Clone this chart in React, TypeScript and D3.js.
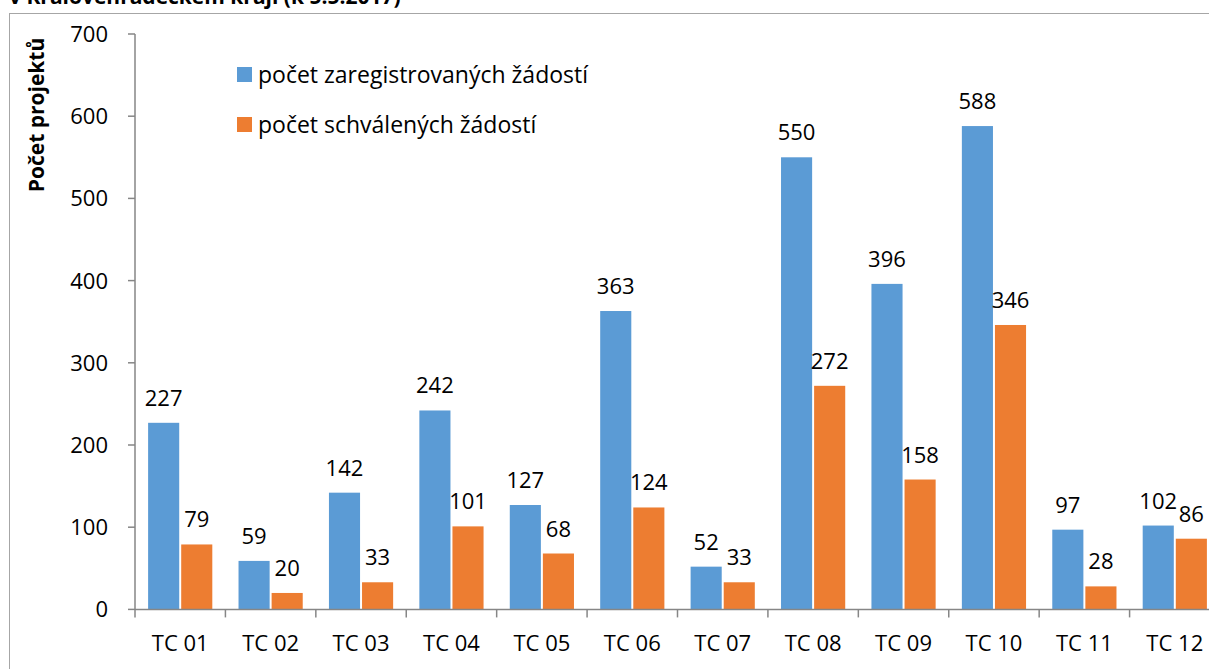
import React from "react";
import * as d3 from "d3";

const categories = ["TC 01","TC 02","TC 03","TC 04","TC 05","TC 06","TC 07","TC 08","TC 09","TC 10","TC 11","TC 12"];
const registered = [227,59,142,242,127,363,52,550,396,588,97,102];
const approved = [79,20,33,101,68,124,33,272,158,346,28,86];
const yTicks = [0,100,200,300,400,500,600,700];
const seriesNames = ["počet zaregistrovaných žádostí","počet schválených žádostí"];
const colors = ["#5B9BD5","#ED7D31"];
const title = "v Královéhradeckém kraji (k 5.5.2017)";
const yTitle = "Počet projektů";

const W = 1209, H = 669;
const left = 135, right = 1220, top = 34, bottom = 609.4;
const font = "'Open Sans', sans-serif";
const fs = 22;

export default function App() {
  const x = d3.scaleBand<string>().domain(categories).range([left, right]).paddingInner(0.29).paddingOuter(0.145);
  const x1 = d3.scaleBand<number>().domain([0,1]).range([0, x.bandwidth()]).paddingInner(0.06);
  const y = d3.scaleLinear().domain([0,700]).range([bottom, top]);
  const step = x.step();
  const series = [registered, approved];
  return (
    <svg width={W} height={H} style={{position:"absolute",left:0,top:0}} fontFamily={font}>
      <rect x={0} y={0} width={W} height={H} fill="#fff"/>
      <text x={9} y={4} fontSize={21} fontWeight="bold" fill="#000">{title}</text>
      <rect x={9.5} y={13.5} width={1400} height={800} fill="none" stroke="#a6a6a6" strokeWidth={1}/>
      {categories.map((c,i)=> series.map((s,j)=>(
        <rect key={c+j} x={x(c)!+x1(j)!} y={y(s[i])} width={x1.bandwidth()} height={bottom-y(s[i])} fill={colors[j]}/>
      )))}
      {categories.map((c,i)=> series.map((s,j)=>(
        <text key={"l"+c+j} x={x(c)!+x1(j)!+x1.bandwidth()/2} y={y(s[i])-17} textAnchor="middle" fontSize={fs} fill="#000">{s[i]}</text>
      )))}
      <line x1={left} x2={left} y1={top} y2={bottom} stroke="#868686" strokeWidth={1.5}/>
      <line x1={left} x2={right} y1={bottom} y2={bottom} stroke="#868686" strokeWidth={1.5}/>
      {yTicks.map(t=>(
        <g key={t}>
          <line x1={left-7} x2={left} y1={y(t)} y2={y(t)} stroke="#868686" strokeWidth={1.5}/>
          <text x={108} y={y(t)} dy="0.36em" textAnchor="end" fontSize={fs} fill="#000">{t}</text>
        </g>
      ))}
      {d3.range(categories.length+1).map(i=>(
        <line key={"t"+i} x1={left+i*step} x2={left+i*step} y1={bottom} y2={bottom+8} stroke="#868686" strokeWidth={1.5}/>
      ))}
      {categories.map(c=>(
        <text key={"x"+c} x={x(c)!+x.bandwidth()/2} y={651} textAnchor="middle" fontSize={fs} fill="#000">{c}</text>
      ))}
      <text transform={`translate(44,115) rotate(-90)`} textAnchor="middle" fontSize={21} fontWeight="bold" fill="#000">{yTitle}</text>
      {seriesNames.map((n,j)=>(
        <g key={n}>
          <rect x={237} y={67+j*50} width={15} height={15} fill={colors[j]}/>
          <text x={258} y={83+j*50} fontSize={23} fill="#000">{n}</text>
        </g>
      ))}
    </svg>
  );
}
